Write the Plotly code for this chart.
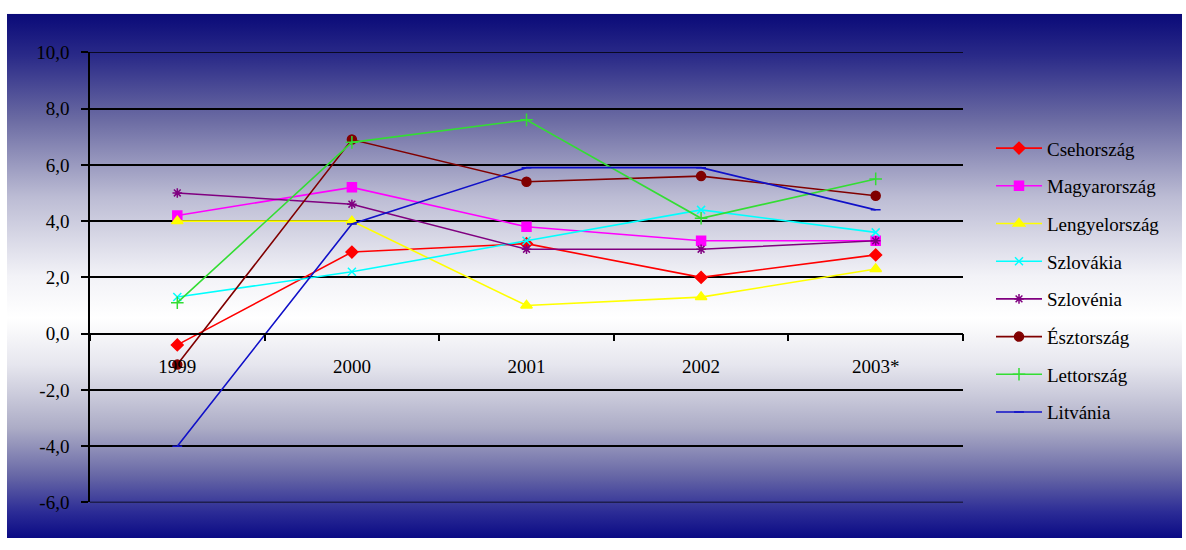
import base64
import plotly.graph_objects as go

# Annual values by country, 1999-2003*
years = ["1999", "2000", "2001", "2002", "2003*"]

csehorszag = [-0.4, 2.9, 3.2, 2.0, 2.8]
magyarorszag = [4.2, 5.2, 3.8, 3.3, 3.3]
lengyelorszag = [4.0, 4.0, 1.0, 1.3, 2.3]
szlovakia = [1.3, 2.2, 3.3, 4.4, 3.6]
szlovenia = [5.0, 4.6, 3.0, 3.0, 3.3]
esztorszag = [-1.1, 6.9, 5.4, 5.6, 4.9]
lettorszag = [1.1, 6.8, 7.6, 4.1, 5.5]
litvania = [-4.0, 3.9, 5.9, 5.9, 4.4]

y_ticks = [10, 8, 6, 4, 2, 0, -2, -4, -6]
y_tick_labels = ["10,0", "8,0", "6,0", "4,0", "2,0", "0,0", "-2,0", "-4,0", "-6,0"]
y_min, y_max = -6, 10

series = [
    ("Csehország", csehorszag, "#ff0000", "diamond", 9),
    ("Magyarország", magyarorszag, "#ff00ff", "square", 9),
    ("Lengyelország", lengyelorszag, "#ffff00", "triangle-up", 10),
    ("Szlovákia", szlovakia, "#00ffff", "x-thin", 8),
    ("Szlovénia", szlovenia, "#800080", "asterisk", 8),
    ("Észtország", esztorszag, "#800000", "circle", 9),
    ("Lettország", lettorszag, "#33dd33", "cross-thin", 9),
    ("Litvánia", litvania, "#1010c8", "line-ew", 7),
]

W, H = 1186, 550
serif = "Liberation Serif"

fig = go.Figure()
for i, (name, vals, color, symbol, size) in enumerate(series):
    fig.add_trace(go.Scatter(
        x=years, y=vals, name=name, mode="lines+markers",
        legendgroup=f"g{i}",
        line=dict(color=color, width=1.6),
        marker=dict(color=color, symbol=symbol, size=size,
                    line=dict(color=color, width=1.5)),
    ))

# vertical navy-white-navy gradient backdrop
svg = f"""<svg xmlns='http://www.w3.org/2000/svg' width='1175' height='545' viewBox='0 0 1175 545' preserveAspectRatio='none'>
<defs><linearGradient id='g' x1='0' y1='0' x2='0' y2='1'>
<stop offset='0' stop-color='#0a0a78'/>
<stop offset='0.08' stop-color='#2a2a88'/>
<stop offset='0.2' stop-color='#6a6aa2'/>
<stop offset='0.35' stop-color='#bcbcd4'/>
<stop offset='0.5' stop-color='#f2f2f7'/>
<stop offset='0.58' stop-color='#ffffff'/>
<stop offset='0.67' stop-color='#e6e6ee'/>
<stop offset='0.79' stop-color='#acacc6'/>
<stop offset='0.88' stop-color='#6868a6'/>
<stop offset='0.95' stop-color='#2c2c96'/>
<stop offset='1' stop-color='#0a0a84'/>
</linearGradient></defs>
<rect x='0' y='0' width='1175' height='545' fill='url(#g)'/>
</svg>"""
src = "data:image/svg+xml;base64," + base64.b64encode(svg.encode()).decode()

y0, y1 = (H - 512) / H, (H - 44) / H
x_axis_pos = y0 + (0 - y_min) / (y_max - y_min) * (y1 - y0)
x_left, x_right = 90 / W, 963 / W

# gridlines at the range edges (not drawn by the axis grid itself)
edge_lines = [
    dict(type="line", xref="paper", yref="y", x0=x_left, x1=x_right,
         y0=v, y1=v, line=dict(color="black", width=1.5), layer="below")
    for v in (y_min, y_max)
]

fig.update_layout(
    width=W, height=H,
    margin=dict(l=0, r=0, t=0, b=0),
    paper_bgcolor="white",
    plot_bgcolor="rgba(0,0,0,0)",
    showlegend=True,
    shapes=edge_lines,
    images=[dict(source=src, xref="paper", yref="paper",
                 x=7 / W, y=1 - 4 / H, sizex=1175 / W, sizey=545 / H,
                 xanchor="left", yanchor="top", sizing="stretch",
                 layer="below")],
    xaxis=dict(
        domain=[x_left, x_right],
        type="category", range=[-0.5, 4.5],
        anchor="free", position=x_axis_pos,
        showline=True, linecolor="black", linewidth=1.5,
        ticks="outside", tickson="boundaries", ticklen=7,
        tickcolor="black", tickwidth=1.5,
        ticklabelstandoff=16,
        showgrid=False, zeroline=False,
        tickfont=dict(family=serif, size=19, color="black"),
    ),
    yaxis=dict(
        domain=[y0, y1],
        range=[y_min, y_max], tickvals=y_ticks, ticktext=y_tick_labels,
        showline=True, linecolor="black", linewidth=1.5,
        ticks="outside", ticklen=7, tickcolor="black", tickwidth=1.5,
        ticklabelstandoff=8,
        showgrid=True, gridcolor="black", gridwidth=1.5,
        zeroline=False,
        tickfont=dict(family=serif, size=19, color="black"),
    ),
    legend=dict(
        x=991 / W, y=1 - 124 / H, xanchor="left", yanchor="top",
        bgcolor="rgba(0,0,0,0)", borderwidth=0,
        traceorder="grouped", tracegroupgap=10, itemwidth=46,
        font=dict(family=serif, size=19, color="black"),
    ),
)

fig.write_html("out.html")
